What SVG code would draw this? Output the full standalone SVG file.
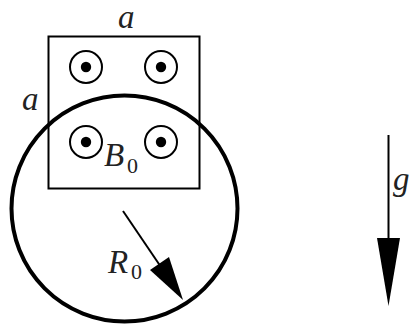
<svg xmlns="http://www.w3.org/2000/svg" width="410" height="324" viewBox="0 0 410 324">
<style>
.t{font-family:"Liberation Serif",serif;font-style:italic;fill:#222;font-size:33px}
.s{font-family:"Liberation Serif",serif;fill:#222;font-size:22px}
.ring{fill:none;stroke:#000;stroke-width:2}
</style>
<defs>
<g id="dot"><circle class="ring" r="16"/><circle r="5.2" fill="#000"/></g>
</defs>
<rect width="410" height="324" fill="#fff"/>
<g id="square"><rect x="48.5" y="36.5" width="151" height="152" fill="none" stroke="#000" stroke-width="2"/></g>
<g id="fields">
<use href="#dot" x="86" y="67"/>
<use href="#dot" x="161" y="67"/>
<use href="#dot" x="86" y="142"/>
<use href="#dot" x="161" y="142"/>
</g>
<g id="circle"><circle cx="124.5" cy="208.5" r="113" fill="none" stroke="#000" stroke-width="4"/></g>
<g id="connectors">
<line x1="123" y1="211" x2="163" y2="270" stroke="#000" stroke-width="2"/>
<polygon points="183,300 150,270 169,257" fill="#000"/>
<line x1="388.5" y1="135" x2="388.5" y2="240" stroke="#000" stroke-width="2"/>
<polygon points="388.5,306 377,238 400,238" fill="#000"/>
</g>
<g id="labels">
<text class="t" x="118" y="28">a</text>
<text class="t" x="22" y="110">a</text>
<text class="t" x="104" y="166">B</text><text class="s" x="127" y="173">0</text>
<text class="t" x="108" y="273">R</text><text class="s" x="131" y="279">0</text>
<text class="t" x="393" y="190">g</text>
</g>
</svg>
